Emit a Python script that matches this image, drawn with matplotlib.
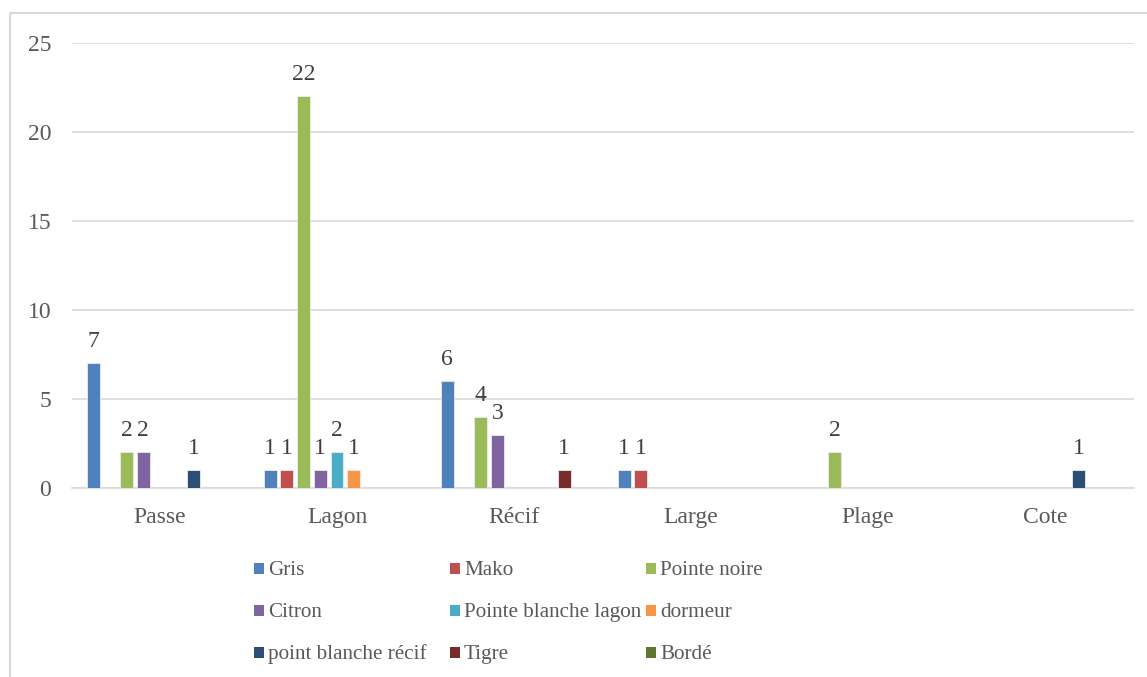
import numpy as np
import matplotlib
matplotlib.use("Agg")
import matplotlib.pyplot as plt
from matplotlib.patches import Rectangle
from matplotlib.lines import Line2D

plt.rcParams.update({"font.family": ["Liberation Serif", "DejaVu Serif"], "font.size": 15})

categories = ["Passe", "Lagon", "Récif", "Large", "Plage", "Cote"]
series_names = ["Gris", "Mako", "Pointe noire", "Citron", "Pointe blanche lagon",
                "dormeur", "point blanche récif", "Tigre", "Bordé"]
series_colors = ["#4F81BD", "#C0504D", "#9BBB59", "#8064A2", "#4BACC6",
                 "#F79646", "#2C4D75", "#772C2A", "#5F7530"]
gris = [7, 1, 6, 1, 0, 0]
mako = [0, 1, 0, 1, 0, 0]
pointe_noire = [2, 22, 4, 0, 2, 0]
citron = [2, 1, 3, 0, 0, 0]
pointe_blanche_lagon = [0, 2, 0, 0, 0, 0]
dormeur = [0, 1, 0, 0, 0, 0]
point_blanche_recif = [1, 0, 0, 0, 0, 1]
tigre = [0, 0, 1, 0, 0, 0]
borde = [0, 0, 0, 0, 0, 0]
values = [gris, mako, pointe_noire, citron, pointe_blanche_lagon,
          dormeur, point_blanche_recif, tigre, borde]

fig = plt.figure(figsize=(11.47, 6.77), dpi=100)
ax = fig.add_axes([71.5 / 1147, 1 - 488 / 677, 1062 / 1147, 445 / 677])

x = np.arange(len(categories))
pitch = 0.0944
width = 0.073
n = len(series_names)
for j, (name, col, vals) in enumerate(zip(series_names, series_colors, values)):
    pos = x + (j - (n - 1) / 2) * pitch
    ax.bar(pos, vals, width, color=col, edgecolor="#e8ecf2", linewidth=0.6, zorder=3)
    for xp, v in zip(pos, vals):
        if v:
            ax.annotate(str(v), (xp, v), xytext=(0, 11.5), textcoords="offset points",
                        ha="center", va="baseline", color="#404040", fontsize=17)

ax.set_xlim(-0.5, len(categories) - 0.5)
ax.set_ylim(0, 25)
ax.set_yticks(range(0, 26, 5))
ax.set_xticks(x)
ax.set_xticklabels(categories)
ax.grid(axis="y", color="#d9d9d9", linewidth=1.2, zorder=0)
for s in ["top", "right", "left"]:
    ax.spines[s].set_visible(False)
ax.spines["bottom"].set_color("#d9d9d9")
ax.spines["bottom"].set_linewidth(1.2)
ax.tick_params(axis="both", length=0, colors="#595959", labelsize=17)
ax.tick_params(axis="y", pad=14.5)
ax.tick_params(axis="x", pad=13.5)

# legend, 3 equal-width columns like the spreadsheet export
col_x = [254, 450, 646]
row_y = [568, 610, 652]
for k, (name, col) in enumerate(zip(series_names, series_colors)):
    cx = col_x[k % 3]
    cy = row_y[k // 3]
    fig.patches.append(Rectangle((cx / 1147, 1 - (cy + 5.5) / 677), 10 / 1147, 11 / 677,
                                 transform=fig.transFigure, facecolor=col, edgecolor="none"))
    fig.text((cx + 14) / 1147, 1 - cy / 677, name, ha="left", va="center_baseline",
             color="#595959", fontsize=15.2)

# chart border
fig.lines.append(Line2D([10 / 1147, 10 / 1147, 1.0], [0, 1 - 13 / 677, 1 - 13 / 677],
                        transform=fig.transFigure, color="#d9d9d9", linewidth=1.5))

fig.savefig("out.png", dpi=100)
